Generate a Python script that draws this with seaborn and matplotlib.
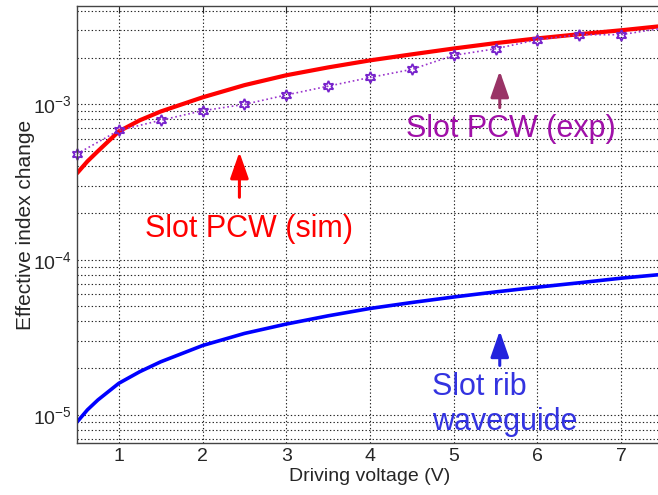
import matplotlib
matplotlib.use("Agg")
import matplotlib.pyplot as plt
import seaborn as sns
import pandas as pd
import numpy as np

# Data (driving voltage in V, effective index change)
voltage_sim = [0.5, 0.625, 0.75, 1.0, 1.25, 1.5, 2.0, 2.5, 3.0, 3.5, 4.0, 4.5,
               5.0, 5.5, 6.0, 6.5, 7.0, 7.5]
pcw_sim = [3.6e-4, 4.3e-4, 5.0e-4, 6.7e-4, 7.9e-4, 9.0e-4, 1.11e-3, 1.33e-3, 1.54e-3,
           1.73e-3, 1.92e-3, 2.10e-3, 2.29e-3, 2.48e-3, 2.66e-3, 2.83e-3, 3.00e-3, 3.20e-3]
rib_sim = [9.0e-6, 1.08e-5, 1.25e-5, 1.6e-5, 1.9e-5, 2.2e-5, 2.8e-5, 3.35e-5, 3.85e-5,
           4.35e-5, 4.85e-5, 5.3e-5, 5.75e-5, 6.2e-5, 6.65e-5, 7.1e-5, 7.6e-5, 8.05e-5]

voltage_exp = [0.5, 1.0, 1.5, 2.0, 2.5, 3.0, 3.5, 4.0, 4.5, 5.0, 5.5, 6.0, 6.5, 7.0, 7.5]
pcw_exp = [4.8e-4, 6.8e-4, 7.9e-4, 9.1e-4, 1.0e-3, 1.15e-3, 1.31e-3, 1.49e-3,
           1.68e-3, 2.07e-3, 2.28e-3, 2.61e-3, 2.81e-3, 2.81e-3, 3.1e-3]

sns.set_style("white")
plt.rcParams['font.family'] = ['Liberation Sans', 'DejaVu Sans']
plt.rcParams['mathtext.fontset'] = 'custom'
plt.rcParams['mathtext.rm'] = 'Liberation Sans'

df_sim = pd.DataFrame({'V': voltage_sim, 'pcw': pcw_sim, 'rib': rib_sim})
df_exp = pd.DataFrame({'V': voltage_exp, 'pcw': pcw_exp})

fig = plt.figure(figsize=(6.58, 4.95), dpi=100)
# axes run a little past the right edge of the picture, as in the reference
ax = fig.add_axes([77 / 658, 52 / 495, 586 / 658, 437 / 495])

sns.lineplot(data=df_sim, x='V', y='pcw', ax=ax, color='#FF0000', linewidth=3)
sns.lineplot(data=df_sim, x='V', y='rib', ax=ax, color='#0000FF', linewidth=2.6)
sns.lineplot(data=df_exp, x='V', y='pcw', ax=ax, color='#9933CC', linewidth=1.2,
             linestyle=':', marker=(6, 1, 0), markersize=8,
             markerfacecolor='none', markeredgecolor='#7722CC', markeredgewidth=1.3,
             clip_on=False)

ax.set_yscale('log')
ax.set_xlim(0.5, 7.5)
ax.set_ylim(6.6e-6, 4.3e-3)
ax.set_xticks([1, 2, 3, 4, 5, 6, 7])

# MATLAB-like dotted grid
grid_kw = dict(color='#222222', linestyle=(0, (1.2, 2)), linewidth=0.8)
ax.grid(True, which='major', axis='both', **grid_kw)
ax.grid(True, which='minor', axis='y', **grid_kw)

ax.tick_params(which='both', direction='in', top=True, right=True, labelsize=14)
ax.tick_params(which='major', length=5)
ax.tick_params(which='minor', length=3)
for s in ax.spines.values():
    s.set_color('#444444')
    s.set_linewidth(1.0)

ax.set_xlabel("Driving voltage (V)", fontsize=14, labelpad=2)
ax.set_ylabel("Effective index change", fontsize=15)
ax.yaxis.set_label_coords(-0.072, 0.5)

# Annotations
arrow = "-|>,head_length=0.8,head_width=0.28"
ax.annotate("", xy=(2.44, 5.14e-4), xytext=(2.44, 2.42e-4),
            arrowprops=dict(arrowstyle=arrow, color='#FF0000', lw=2.2, mutation_scale=20))
ax.text(1.31, 1.40e-4, "Slot PCW (sim)", color='#FF0000', fontsize=22,
        ha='left', va='baseline')

ax.annotate("", xy=(5.55, 1.71e-3), xytext=(5.55, 9.15e-4),
            arrowprops=dict(arrowstyle=arrow, color='#993366', lw=2.2, mutation_scale=20))
ax.text(4.43, 6.14e-4, "Slot PCW (exp)", color='#A010A8', fontsize=22,
        ha='left', va='baseline')

ax.annotate("", xy=(5.55, 3.63e-5), xytext=(5.55, 2.0e-5),
            arrowprops=dict(arrowstyle=arrow, color='#2222DD', lw=2.2, mutation_scale=20))
ax.text(4.74, 1.35e-5, "Slot rib", color='#3333E0', fontsize=22, ha='left', va='baseline')
ax.text(4.74, 8.0e-6, "waveguide", color='#3333E0', fontsize=22, ha='left', va='baseline')

plt.savefig('out.png', dpi=100)
